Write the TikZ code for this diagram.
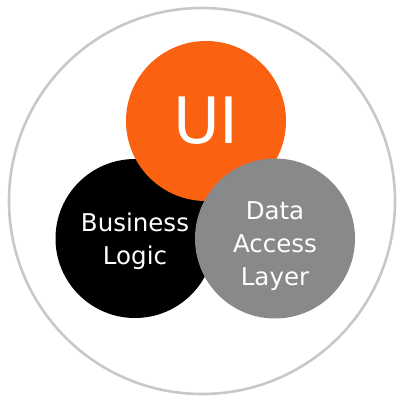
\documentclass[tikz,border=0pt]{standalone}
\usepackage{fontspec}
\setsansfont{DejaVu Sans}
\usepackage{tikz}
\usetikzlibrary{positioning}
\definecolor{uiorange}{HTML}{FA6111}
\definecolor{dalgray}{HTML}{87898B}
\definecolor{ringgray}{HTML}{C8C8C8}

\begin{document}
\begin{tikzpicture}[x=1pt, y=1pt, on grid,
		layer/.style={circle, minimum size=160pt, inner sep=0pt, text=white, align=center, font=\sffamily\fontsize{24.5}{33}\selectfont}]
			\useasboundingbox (0,0) rectangle (399,-398);
			\node[circle, draw=ringgray, line width=2.6pt, minimum size=386pt, inner sep=0pt] (frame) at (202,-201) {};
			
			\node[layer, fill=black, minimum size=159pt, text height=53pt, text depth=0pt] (logic) at (135,-238.5) {Business\\Logic};
			\node[layer, fill=uiorange, above right = 117.5pt and 71pt of logic, font=\sffamily\fontsize{64}{64}\selectfont] (ui) {UI};
			\node[layer, fill=dalgray, right = 140pt of logic, text height=94pt, text depth=0pt] (data) {Data\\Access\\Layer};
			
		\end{tikzpicture}
\end{document}
